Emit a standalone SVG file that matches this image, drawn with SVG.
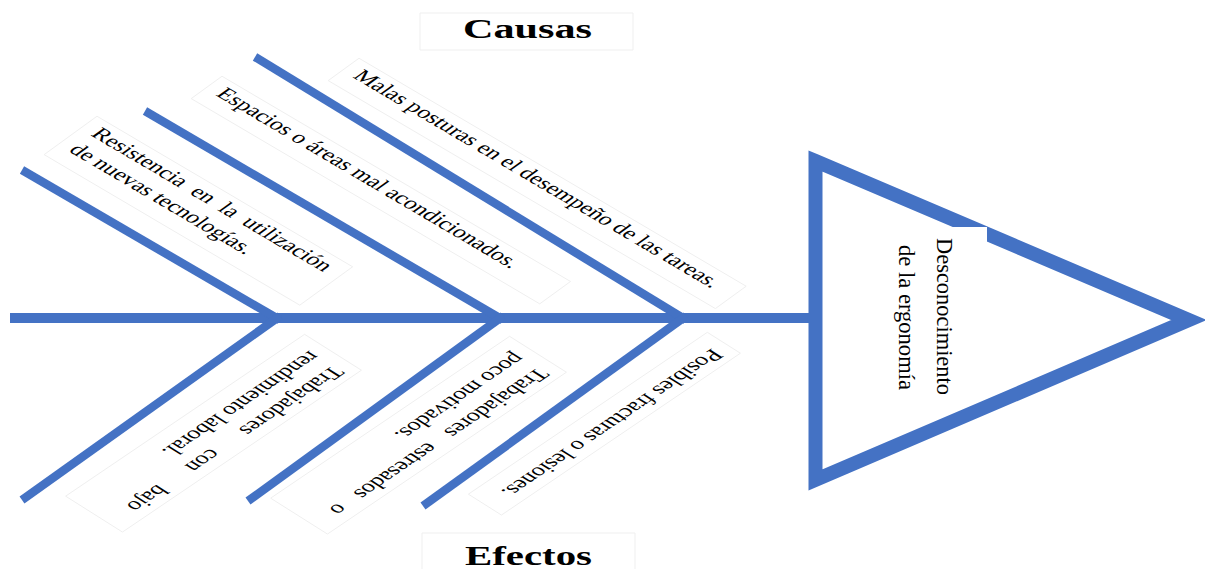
<svg xmlns="http://www.w3.org/2000/svg" width="1205" height="569" viewBox="0 0 1205 569">
<style>
.bone{stroke:#4472C4;stroke-width:8.5;fill:none}
.spine{stroke:#4472C4;stroke-width:10;fill:none}
.tri{stroke:#4472C4;stroke-width:14;fill:#fff;stroke-linejoin:miter}
.lbl{font-family:"Liberation Serif","Times New Roman",serif;font-size:26.4px;fill:#000}
.box{fill:#fff;stroke:#efefef;stroke-width:1;vector-effect:non-scaling-stroke}
.title{font-family:"Liberation Serif","Times New Roman",serif;font-weight:bold;font-size:42px;fill:#000}
.head{font-family:"Liberation Serif","Times New Roman",serif;font-size:24px;fill:#000}
</style>
<rect width="1205" height="569" fill="#fff"/>
<g id="title-causas">
<rect class="box" x="420" y="13" width="213" height="37"/>
<text class="title" transform="translate(463,37.5) scale(1,0.654)" textLength="129" lengthAdjust="spacingAndGlyphs">Causas</text>
</g>
<g id="title-efectos">
<rect class="box" x="422" y="533" width="213" height="40"/>
<text class="title" transform="translate(465,565) scale(1,0.654)" textLength="127" lengthAdjust="spacingAndGlyphs">Efectos</text>
</g>
<g id="cause-1">
<g transform="translate(90,135) scale(1,0.654) rotate(42)">
<rect class="box" x="-14" y="-26" width="344" height="79"/>
<text class="lbl"><tspan x="0" y="0">Resistencia</tspan><tspan x="133">en</tspan><tspan x="170.7">la</tspan><tspan x="202.5">utilización</tspan><tspan x="0" y="32.7">de nuevas tecnologías.</tspan></text>
</g>
</g>
<g id="cause-2">
<g transform="translate(215,95) scale(1,0.654) rotate(42)">
<rect class="box" x="-14" y="-26" width="469" height="46"/>
<text class="lbl" x="0" y="0">Espacios o áreas mal acondicionados.</text>
</g>
</g>
<g id="cause-3">
<g transform="translate(352,77) scale(1,0.654) rotate(42)">
<rect class="box" x="-14" y="-26" width="521" height="46"/>
<text class="lbl" x="0" y="0">Malas posturas en el desempeño de las tareas.</text>
</g>
</g>
<g id="effect-1">
<g transform="translate(333,365) scale(1,0.654) rotate(134)">
<rect class="box" x="-14" y="-26" width="344" height="79"/>
<text class="lbl"><tspan x="0" y="0">Trabajadores</tspan><tspan x="176.35">con</tspan><tspan x="253">bajo</tspan><tspan x="0" y="32.7">rendimiento laboral.</tspan></text>
</g>
</g>
<g id="effect-2">
<g transform="translate(538,367) scale(1,0.654) rotate(134)">
<rect class="box" x="-14" y="-26" width="344" height="79"/>
<text class="lbl"><tspan x="0" y="0">Trabajadores</tspan><tspan x="158.9">estresados</tspan><tspan x="288.5">o</tspan><tspan x="0" y="32.7">poco motivados.</tspan></text>
</g>
</g>
<g id="effect-3">
<g transform="translate(712,348) scale(1,0.654) rotate(134)">
<rect class="box" x="-14" y="-26" width="344" height="46"/>
<text class="lbl" x="0" y="0">Posibles fracturas o lesiones.</text>
</g>
</g>
<g id="connectors">
<line class="spine" x1="10" y1="318" x2="812" y2="318"/>
<line class="bone" x1="22" y1="170" x2="280" y2="320"/>
<line class="bone" x1="145" y1="111" x2="503" y2="320"/>
<line class="bone" x1="255" y1="57" x2="686" y2="320"/>
<line class="bone" x1="280" y1="316" x2="22" y2="500"/>
<line class="bone" x1="503" y1="316" x2="248" y2="501"/>
<line class="bone" x1="686" y1="316" x2="423" y2="506"/>
</g>
<g id="head">
<polygon class="tri" points="815.5,161 1189,320 815.5,480"/>
<rect x="893" y="227" width="94" height="170" fill="#fff"/>
<text class="head" transform="translate(937,238) rotate(90)" textLength="157" lengthAdjust="spacingAndGlyphs">Desconocimiento</text>
<text class="head" transform="translate(899,245) rotate(90)" textLength="145" lengthAdjust="spacingAndGlyphs">de la ergonomía</text>
</g>
</svg>
